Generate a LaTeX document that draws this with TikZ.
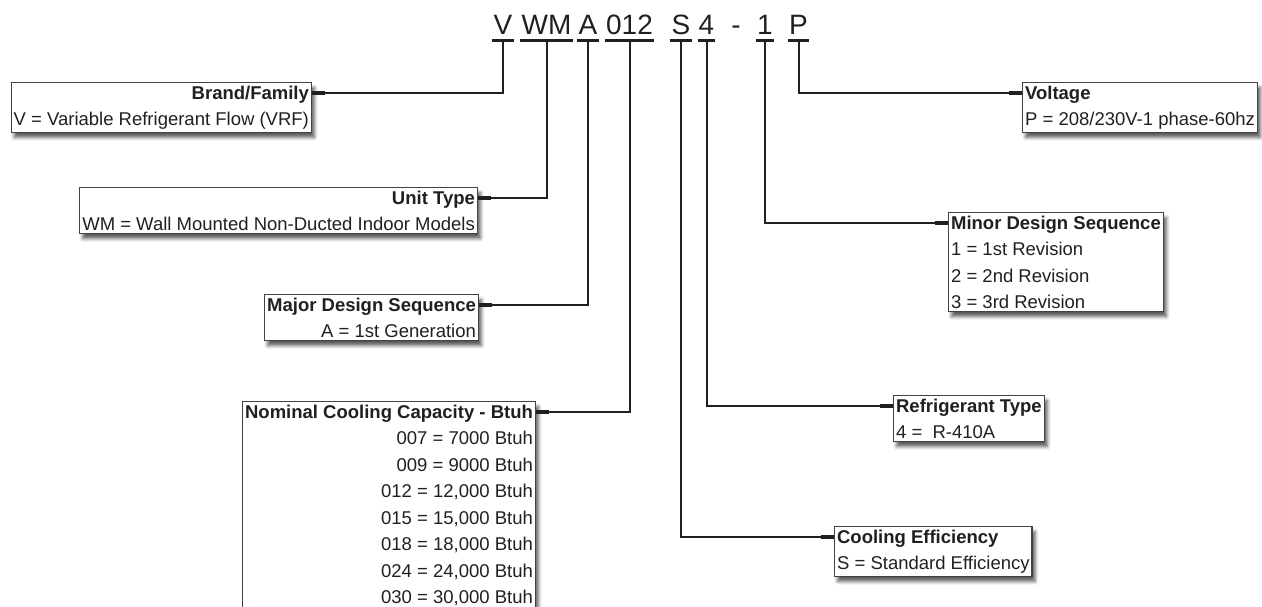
\documentclass[tikz,border=0pt]{standalone}
\usepackage{fontspec}
\setmainfont{Liberation Sans}
\usepackage{xcolor}
\usepackage{tikz}
\usetikzlibrary{shadows.blur}
\definecolor{ink}{HTML}{231F20}
\tikzset{
  code/.style={font=\fontsize{28}{30}\selectfont, text=ink, inner xsep=1pt, inner ysep=5pt, anchor=base},
  uline/.style={line width=2.8pt, draw=ink},
  infobox/.style={draw=ink!85, line width=1.2pt, fill=white, inner xsep=2.5pt, inner ysep=3pt,
    font=\fontsize{18.5}{26.5}\selectfont, text=ink,
    blur shadow={shadow xshift=3pt, shadow yshift=-5pt, shadow blur radius=3.5pt, shadow opacity=65}},
  leftbox/.style={infobox, align=right, anchor=north east},
  rightbox/.style={infobox, align=left, anchor=north west},
  lead/.style={line width=2pt, draw=ink},
  stub/.style={line width=4.5pt, draw=ink},
}

\begin{document}
\begin{tikzpicture}[x=1pt,y=-1pt]
  \useasboundingbox (0,0) rectangle (1262,607);
  % model number
  \node[code] (cV) at (503,35) {V};
  \node[code] (cWM) at (546.5,35) {WM};
  \node[code] (cA) at (588,35) {A};
  \node[code] (cCap) at (629.5,35) {012};
  \node[code] (cS) at (681,35) {S};
  \node[code] (cR) at (706.5,35) {4};
  \node[code] (cDash) at (736,35) {-};
  \node[code] (cOne) at (765,35) {1};
  \node[code] (cP) at (798.5,35) {P};
  \foreach \c in {cV,cWM,cA,cCap,cS,cR,cOne,cP}
    \draw[uline] (\c.south west) -- (\c.south east);

  % left boxes
  \node[leftbox] (brand) at (312,82) {\textbf{Brand/Family}\\V = Variable Refrigerant Flow (VRF)};
  \node[leftbox] (unit) at (478,187) {\textbf{Unit Type}\\WM = Wall Mounted Non-Ducted Indoor Models};
  \node[leftbox] (major) at (479,294) {\textbf{Major Design Sequence}\\A = 1st Generation};
  \node[leftbox] (cap) at (536,401) {\textbf{Nominal Cooling Capacity - Btuh}\\007 = 7000 Btuh\\009 = 9000 Btuh\\012 = 12,000 Btuh\\015 = 15,000 Btuh\\018 = 18,000 Btuh\\024 = 24,000 Btuh\\030 = 30,000 Btuh};

  % right boxes
  \node[rightbox] (volt) at (1022,82) {\textbf{Voltage}\\P = 208/230V-1 phase-60hz};
  \node[rightbox] (minor) at (948,212) {\textbf{Minor Design Sequence}\\1 = 1st Revision\\2 = 2nd Revision\\3 = 3rd Revision};
  \node[rightbox] (refr) at (893,395) {\textbf{Refrigerant Type}\\4 = \ R-410A};
  \node[rightbox] (eff) at (834,526) {\textbf{Cooling Efficiency}\\S = Standard Efficiency};

  % leaders
  \foreach \b/\c in {brand/cV,unit/cWM,major/cA,cap/cCap}{
    \draw[lead] ([yshift=-11pt]\b.north east) -| (\c.south);
    \draw[stub] ([yshift=-11pt]\b.north east) -- ++(13,0);
  }
  \foreach \b/\c in {volt/cP,minor/cOne,refr/cR,eff/cS}{
    \draw[lead] ([yshift=-11pt]\b.north west) -| (\c.south);
    \draw[stub] ([yshift=-11pt]\b.north west) -- ++(-13,0);
  }
\end{tikzpicture}
\end{document}
